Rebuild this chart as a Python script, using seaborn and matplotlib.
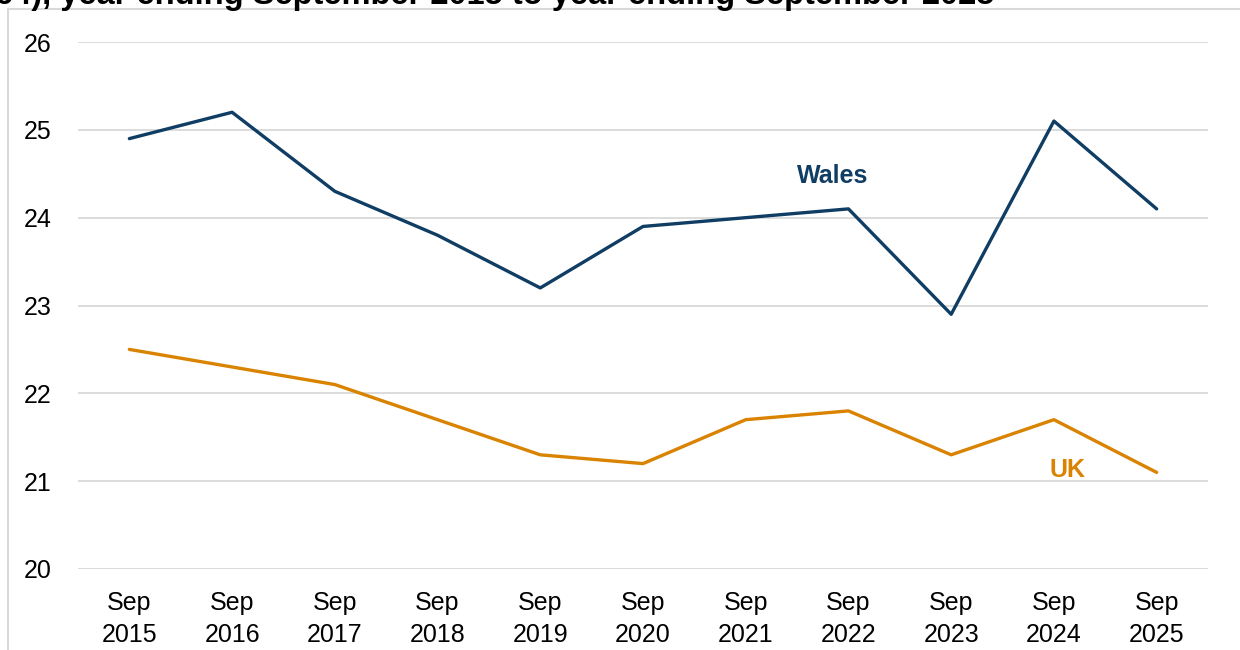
import pandas as pd
import numpy as np
import matplotlib.pyplot as plt
import matplotlib.patches as patches
import seaborn as sns

# --- DATA ---
periods = ['Sep\n2015', 'Sep\n2016', 'Sep\n2017', 'Sep\n2018', 'Sep\n2019', 'Sep\n2020',
           'Sep\n2021', 'Sep\n2022', 'Sep\n2023', 'Sep\n2024', 'Sep\n2025']
wales = [24.9, 25.2, 24.3, 23.8, 23.2, 23.9, 24.0, 24.1, 22.9, 25.1, 24.1]
uk = [22.5, 22.3, 22.1, 21.7, 21.3, 21.2, 21.7, 21.8, 21.3, 21.7, 21.1]
title_text = '64), year ending September 2015 to year ending September 2025'

df = pd.DataFrame({
    'period': periods * 2,
    'x': list(range(len(periods))) * 2,
    'rate': wales + uk,
    'area': ['Wales'] * len(periods) + ['UK'] * len(periods),
})

colours = {'Wales': '#0f3d64', 'UK': '#d98300'}

sns.set_style('white')
plt.rcParams['font.family'] = ['Liberation Sans', 'DejaVu Sans']

fig = plt.figure(figsize=(12.4, 6.5), dpi=100)
ax = fig.add_axes([78 / 1240, 1 - 569 / 650, (1208 - 78) / 1240, (569 - 42) / 650])

sns.lineplot(data=df, x='x', y='rate', hue='area', palette=colours,
             linewidth=2.4, legend=False, ax=ax)

ax.set_xlim(-0.5, len(periods) - 0.5)
ax.set_ylim(20, 26)
ax.set_yticks(range(20, 27))
ax.set_xticks(range(len(periods)))
ax.set_xticklabels(periods, linespacing=1.4)
ax.tick_params(axis='both', labelsize=18, length=0, colors='black')
ax.tick_params(axis='x', pad=16)
ax.tick_params(axis='y', pad=19)
ax.set_xlabel('')
ax.set_ylabel('')
ax.grid(axis='y', color='#d9d9d9', linewidth=1.3)
ax.set_axisbelow(True)
for s in ax.spines.values():
    s.set_visible(False)

# series labels
ax.text(6.85, 24.48, 'Wales', color=colours['Wales'], fontsize=18, fontweight='bold', ha='center', va='center')
ax.text(9.13, 21.13, 'UK', color=colours['UK'], fontsize=18, fontweight='bold', ha='center', va='center')

# chart frame and clipped title
fig.patches.append(patches.Rectangle((8 / 1240, -0.1), 1.2, 1 - 9 / 650 + 0.1,
                                     transform=fig.transFigure, fill=False,
                                     edgecolor='#d9d9d9', linewidth=1.5))
fig.text(-0.004, 1 - 4 / 650, title_text, fontsize=23.5, fontweight='bold',
         ha='left', va='baseline', color='black')

fig.savefig('out.png', dpi=100)
